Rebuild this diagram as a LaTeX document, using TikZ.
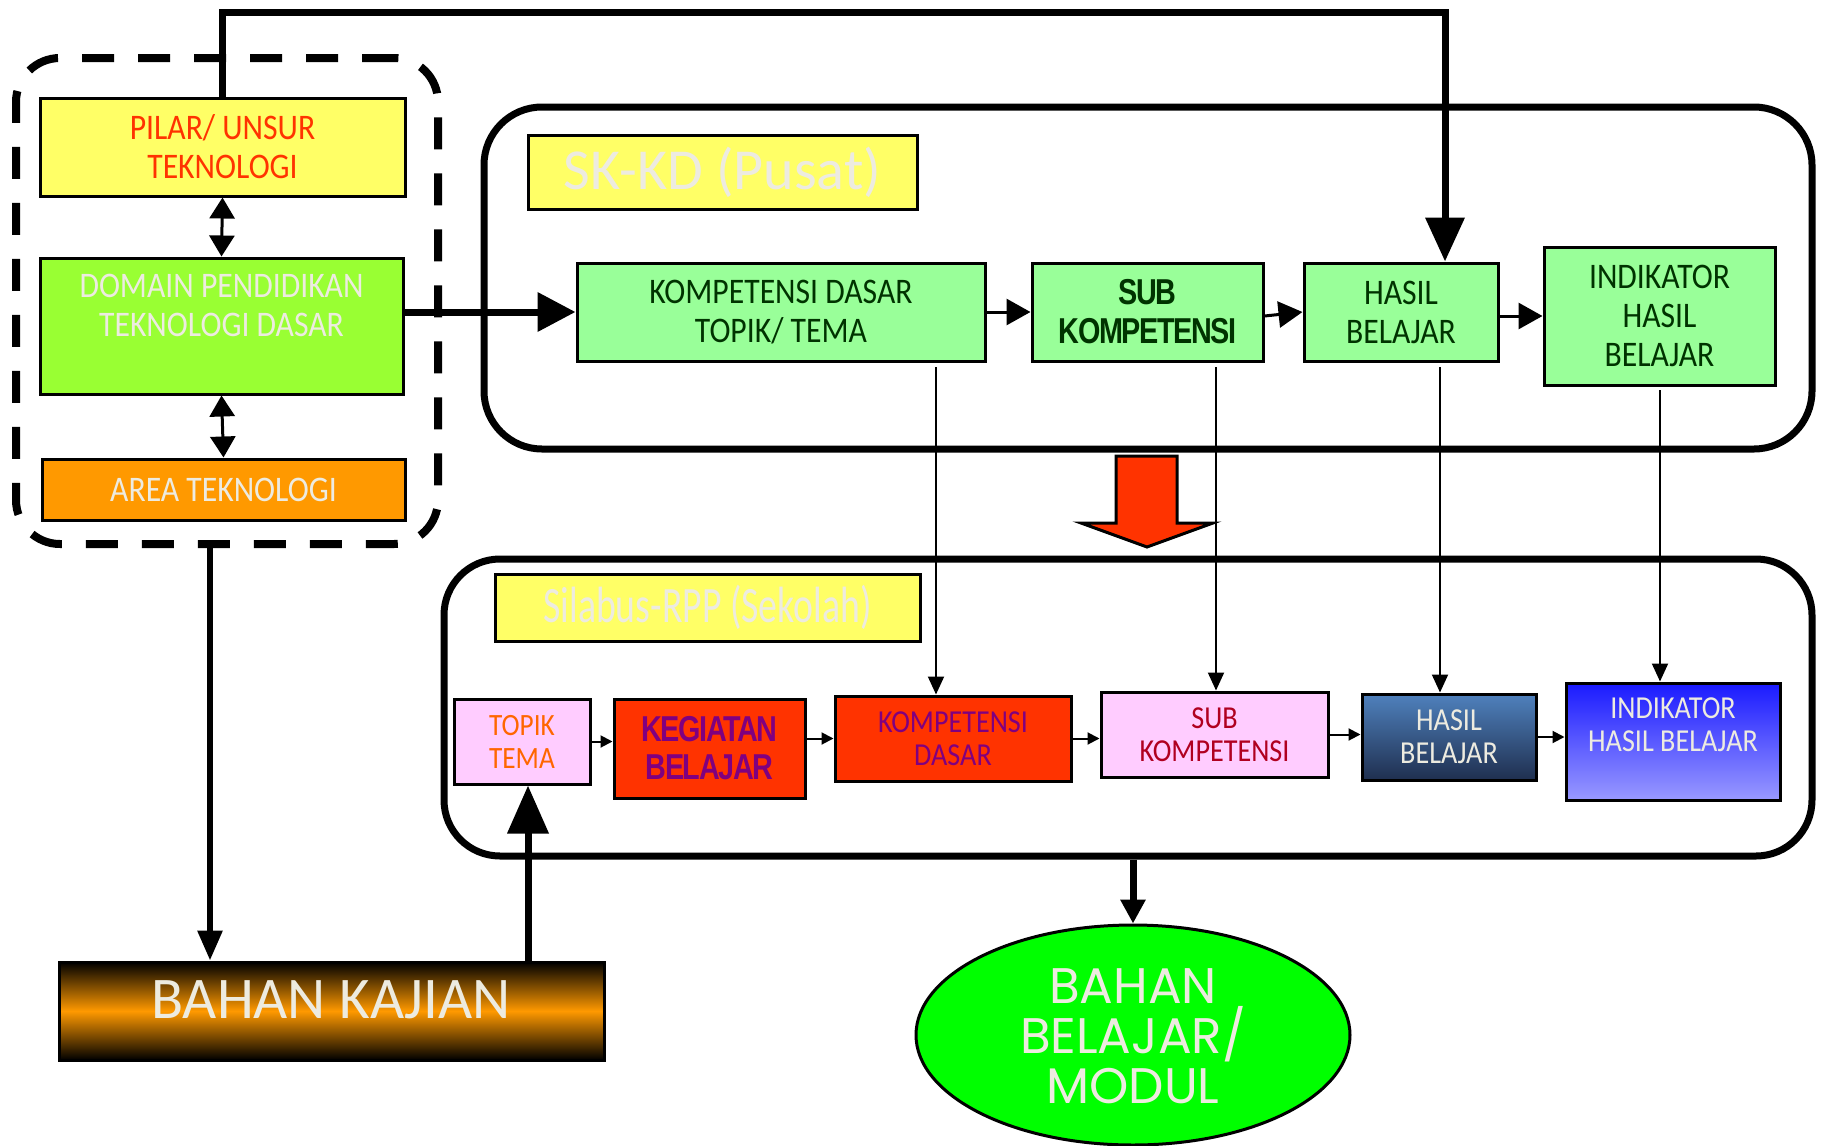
\documentclass[tikz,border=0pt]{standalone}
\usepackage{fontspec}
\usetikzlibrary{arrows.meta,shapes.geometric,fit,calc}
\newfontfamily\cf[FakeStretch=0.88]{Carlito}
\newfontfamily\cfn[FakeStretch=0.74]{Carlito}
\newfontfamily\cfw{Carlito}
\newfontfamily\ab[FakeStretch=0.8,LetterSpace=-4]{Liberation Sans}
\newfontfamily\geo{Poppins}
\newcommand\myfs[2]{\fontsize{#1}{#2}\selectfont}
\definecolor{yel}{HTML}{FFFF66}
\definecolor{pilarred}{HTML}{FF3300}
\definecolor{domgreen}{HTML}{99FF33}
\definecolor{wtext}{HTML}{EDEBE0}
\definecolor{areaor}{HTML}{FF9900}
\definecolor{lgreen}{HTML}{99FF99}
\definecolor{dgreen}{HTML}{003300}
\definecolor{pinkb}{HTML}{FFCCFF}
\definecolor{topikor}{HTML}{FF6600}
\definecolor{redb}{HTML}{FF3300}
\definecolor{purp}{HTML}{800080}
\definecolor{subred}{HTML}{B00020}
\definecolor{hbtop}{HTML}{4F81BD}
\definecolor{hbbot}{HTML}{1F2F4F}
\definecolor{ibtop}{HTML}{1A1AFF}
\definecolor{ibbot}{HTML}{9999FF}
\definecolor{lime}{HTML}{00FF00}
\tikzset{
  box/.style={draw=black, line width=1.5pt, inner sep=0pt, align=center},
  wh/.style 2 args={minimum width=#1/2*1pt, minimum height=#2/2*1pt},
  txt/.style={inner sep=0pt, align=center},
  thickarrow/.style={line width=3.5pt, -{Triangle[length=19pt,width=19pt]}},
  midarrow/.style={line width=1.5pt, -{Triangle[length=12pt,width=13pt]}},
  thinarrow/.style={line width=1pt, -{Triangle[length=9pt,width=8pt]}},
  smallarrow/.style={line width=1pt, -{Triangle[length=6pt,width=6pt]}},
  dblarrow/.style={line width=1.5pt, {Triangle[length=10.5pt,width=12.5pt]}-{Triangle[length=10.5pt,width=12.5pt]}},
}
\begin{document}
\begin{tikzpicture}[x=0.5pt,y=-0.5pt, line join=miter]
\useasboundingbox (0,0) rectangle (1827,1146);
% group frames
\node[draw, line width=4pt, dash pattern=on 16pt off 12pt, rounded corners=22pt, inner sep=0pt, fit={(16,58)(438,544)}] (grp) {};
\node[draw, line width=3.5pt, rounded corners=29pt, inner sep=0pt, fit={(484,107)(1812,449)}] (pusat) {};
\node[draw, line width=3.5pt, rounded corners=28pt, inner sep=0pt, fit={(444,559)(1812,856)}] (sekolah) {};
% left group
\node[box, fill=yel, text=pilarred, font={\cf\myfs{18}{19.5}}, wh={365}{98}] (pilar) at (222.5,147) {PILAR/ UNSUR\\TEKNOLOGI};
\node[box, fill=domgreen, wh={363}{136}] (domain) at (221.5,326) {};
\node[txt, text=wtext, font={\cf\myfs{18}{19.5}}] (domaint) at (221.5,305) {DOMAIN PENDIDIKAN\\TEKNOLOGI DASAR};
\node[box, fill=areaor, text=wtext, font={\cf\myfs{18}{19.5}}, wh={363}{61}] (area) at (223.5,489.5) {AREA TEKNOLOGI};
% top row
\node[box, fill=yel, text=wtext, font={\cfw\myfs{29}{30}}, wh={389}{74}] (skkd) at (722.5,172) {SK-KD (Pusat)};
\node[box, fill=lgreen, text=dgreen, font={\cf\myfs{18}{19.5}}, wh={408}{98}] (kd) at (781,312) {KOMPETENSI DASAR\\TOPIK/ TEMA};
\node[box, fill=lgreen, text=dgreen, font={\ab\bfseries\myfs{18}{19.5}}, wh={231}{98}] (sub) at (1147.5,312) {SUB\\KOMPETENSI};
\node[box, fill=lgreen, text=dgreen, font={\cf\myfs{18}{19.5}}, wh={194}{98}] (hasil) at (1401,312) {HASIL\\BELAJAR};
\node[box, fill=lgreen, text=dgreen, font={\cf\myfs{18}{19.5}}, wh={231}{138}] (ind) at (1659.5,316) {INDIKATOR\\HASIL\\BELAJAR};
% bottom row
\node[box, fill=yel, text=wtext, font={\cfn\myfs{25.5}{27}}, wh={425}{67}] (silabus) at (707.5,607.5) {Silabus-RPP (Sekolah)};
\node[box, fill=pinkb, text=topikor, font={\cf\myfs{15.5}{16.5}}, wh={136}{85}] (topik) at (522,741.5) {TOPIK\\TEMA};
\node[box, fill=redb, text=purp, font={\ab\bfseries\myfs{18}{19}}, wh={191}{99}] (keg) at (709.5,748.5) {KEGIATAN\\BELAJAR};
\node[box, fill=redb, text=purp, font={\cf\myfs{16}{16.5}}, wh={236}{85}] (kdb) at (953,738.5) {KOMPETENSI\\DASAR};
\node[box, fill=pinkb, text=subred, font={\cf\myfs{16}{16.5}}, wh={227}{85}] (subb) at (1214.5,734.5) {SUB\\KOMPETENSI};
\node[box, top color=hbtop, bottom color=hbbot, text=wtext, font={\cf\myfs{16}{16.5}}, wh={174}{86}] (hasilb) at (1449,737) {HASIL\\BELAJAR};
\node[box, top color=ibtop, bottom color=ibbot, wh={214}{117}] (indb) at (1673,741.5) {};
\node[txt, text=wtext, font={\cf\myfs{16}{16.5}}] (indbt) at (1673,725) {INDIKATOR\\HASIL BELAJAR};
% outputs
\node[box, top color=black, bottom color=black, middle color=areaor, wh={545}{98}] (kajian) at (331.5,1011) {};
\node[txt, text=wtext, font={\cfw\myfs{29.5}{30}}] (kajiant) at (331,1000) {BAHAN KAJIAN};
\node[draw=black, line width=1.5pt, fill=lime, ellipse, minimum width=217pt, minimum height=110pt, inner sep=0pt] (ell) at (1133,1035) {};
\node[txt, text=wtext, font={\geo\myfs{25}{25}}] (ellt) at (1133,1036) {BAHAN\\BELAJAR/\\MODUL};
% red block arrow
\draw[line width=1.5pt, fill=redb, line join=miter] (1116,456) -- (1177,456) -- (1177,523) -- (1213,523) -- (1147,547) -- (1081,523) -- (1116,523) -- cycle;
% connectors
\coordinate (topR) at (1445,12);
\draw[line width=3.5pt, -{Triangle[length=22pt,width=19pt]}] (pilar.north) |- (topR) -- (topR |- hasil.north);
\draw[dblarrow] (pilar.south) -- (domain.north);
\draw[dblarrow] (domain.south) -- (area.north);
\draw[thickarrow] (domain.east |- kd.west) -- (kd.west);
\draw[midarrow] (kd.east) -- (sub.west);
\draw[midarrow] ([yshift=-2pt]sub.east) -- (hasil.west);
\draw[midarrow] (hasil.east |- ind.west) -- (ind.west);
\coordinate (v1) at (936,367);
\coordinate (v2) at (1216,367);
\coordinate (v3) at (1440,367);
\coordinate (v4) at (1660,390);
\draw[thinarrow] (v1) -- (v1 |- kdb.north);
\draw[thinarrow] (v2) -- (v2 |- subb.north);
\draw[thinarrow] (v3) -- (v3 |- hasilb.north);
\draw[thinarrow] (v4) -- (v4 |- indb.north);
\draw[smallarrow] (topik.east) -- (topik.east -| keg.west);
\draw[smallarrow] (keg.east |- kdb.west) -- (kdb.west);
\draw[smallarrow] (kdb.east) -- (kdb.east -| subb.west);
\draw[smallarrow] (subb.east) -- (subb.east -| hasilb.west);
\draw[smallarrow] (hasilb.east) -- (hasilb.east -| indb.west);
\coordinate (d1) at (210,544);
\draw[line width=3pt, -{Triangle[length=15pt,width=12pt]}] (d1) -- (d1 |- kajian.north);
\coordinate (u1) at (528,961);
\draw[line width=3.5pt, -{Triangle[length=24pt,width=20pt]}] (u1) -- (u1 |- topik.south);
\draw[line width=3.5pt, -{Triangle[length=12pt,width=12pt]}] (sekolah.south -| ell.north) -- (ell.north);
\end{tikzpicture}
\end{document}
